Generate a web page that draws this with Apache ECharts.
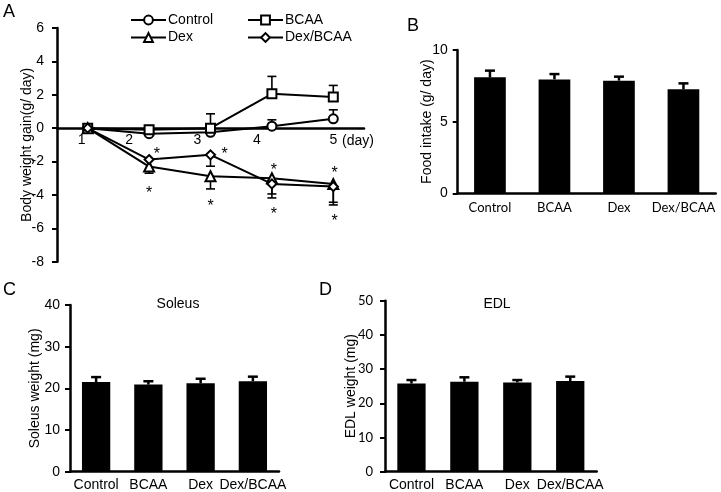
<!DOCTYPE html>
<html>
<head>
<meta charset="utf-8">
<script src="https://cdn.jsdelivr.net/npm/echarts@6/dist/echarts.min.js"></script>
<style>
  html, body { margin: 0; padding: 0; background: #fff; }
  #chart { width: 721px; height: 492px; }
</style>
</head>
<body>
<div id="chart"></div>
<script>
// panel A: body weight gain per day
const days = [1, 2, 3, 4, 5];
const control = [0, -0.33, -0.25, 0.12, 0.56];
const controlErr = [0, 0, 0, 0.38, 0.54];
const bcaa = [0, -0.1, 0.0, 2.06, 1.86];
const bcaaErr = [0, 0.1, 0.86, 1.04, 0.7];
const dex = [0, -2.3, -2.88, -3.0, -3.35];
const dexErr = [0, -0.4, -0.76, -0.94, -1.09];
const dexBcaa = [0, -1.88, -1.6, -3.34, -3.5];
const dexBcaaErr = [0, 0, -0.68, -0.84, -1.1];
// significance marks (day, value)
const starX = [2.125, 2.0, 3.23, 3.0, 4.03, 4.03, 5.02, 5.02];
const starY = [-1.3, -3.64, -1.3, -4.4, -2.25, -4.88, -2.44, -5.3];

// panels B, C, D
const groups = ["Control", "BCAA", "Dex", "Dex/BCAA"];
const food = [8.09, 7.95, 7.86, 7.26];
const foodErr = [0.47, 0.37, 0.28, 0.41];
const soleus = [21.5, 20.9, 21.2, 21.7];
const soleusErr = [1.2, 0.8, 1.1, 1.1];
const edl = [25.8, 26.3, 26.1, 26.5];
const edlErr = [1.0, 1.3, 0.7, 1.3];

const ARIAL = "Liberation Sans";
const myChart = echarts.init(document.getElementById("chart"));

// vertical error bar with a cap at the end
function errItem(lw, hw) {
  return function (params, api) {
    const x = api.value(0), v = api.value(1), e = api.value(2);
    if (!e) return null;
    const p0 = api.coord([x, v]);
    const p1 = api.coord([x, v + e]);
    const st = { stroke: "#000", lineWidth: lw };
    return {
      type: "group",
      children: [
        { type: "line", shape: { x1: p0[0], y1: p0[1], x2: p1[0], y2: p1[1] }, style: st },
        { type: "line", shape: { x1: p1[0] - hw, y1: p1[1], x2: p1[0] + hw, y2: p1[1] }, style: st },
      ],
    };
  };
}

const yAxisBase = {
  type: "value",
  splitLine: { show: false },
  axisLine: { show: true, lineStyle: { color: "#000", width: 2.5 } },
  axisTick: { show: true, length: 5, lineStyle: { color: "#000", width: 2 } },
  nameLocation: "middle",
  nameMoveOverlap: false,
  nameTextStyle: { color: "#000", fontFamily: ARIAL, fontSize: 14 },
};
const catAxisBase = {
  type: "category",
  data: groups,
  axisLine: { lineStyle: { color: "#000", width: 2.5 } },
  axisTick: { show: false },
};

const lineSeries = (name, vals, symbol, size) => ({
  name: name,
  type: "line",
  xAxisIndex: 0,
  yAxisIndex: 0,
  data: days.map((d, i) => [d, vals[i]]),
  symbol: symbol,
  symbolSize: size,
  lineStyle: { color: "#000", width: 2 },
  itemStyle: { color: "#fff", borderColor: "#000", borderWidth: 2 },
  z: 3,
});
const lineErr = (vals, errs) => ({
  type: "custom",
  xAxisIndex: 0,
  yAxisIndex: 0,
  renderItem: errItem(1.6, 4.5),
  data: days.map((d, i) => [d, vals[i], errs[i]]),
  z: 1,
});
const barSeries = (idx, vals, width) => ({
  type: "bar",
  xAxisIndex: idx,
  yAxisIndex: idx,
  data: vals,
  barWidth: width,
  itemStyle: { color: "#000" },
});
const barErr = (idx, vals, errs) => ({
  type: "custom",
  xAxisIndex: idx,
  yAxisIndex: idx,
  renderItem: errItem(2.5, 5),
  data: groups.map((g, i) => [i, vals[i], errs[i]]),
  z: 3,
});

const legendAt = (name, left, top) => ({
  data: [name],
  left: left,
  top: top,
  padding: 0,
  itemWidth: 35,
  itemHeight: 11,
  itemGap: 0,
  selectedMode: false,
  textStyle: { color: "#000", fontFamily: ARIAL, fontSize: 14, padding: [0, 0, 0, -3] },
});

const dayShift = { 1: -6, 2: -20, 3: -13, 4: -15, 5: 0 };
const dayRich = {};
days.forEach((d) => {
  dayRich["d" + d] = {
    fontFamily: ARIAL, fontSize: 14, color: "#000",
    padding: [0, -2 * dayShift[d], 0, 0],
  };
});

const titleStyle = { fontFamily: ARIAL, fontSize: 18, fontWeight: "normal", color: "#000" };
const subStyle = { fontFamily: ARIAL, fontSize: 14, fontWeight: "normal", color: "#000" };

const options = {
  animation: false,
  backgroundColor: "#fff",
  title: [
    { text: "A", left: 3, top: 3, padding: 0, textStyle: titleStyle },
    { text: "B", left: 407, top: 17, padding: 0, textStyle: titleStyle },
    { text: "C", left: 3, top: 281, padding: 0, textStyle: titleStyle },
    { text: "D", left: 319, top: 281, padding: 0, textStyle: titleStyle },
    { text: "Soleus", left: 178, top: 297, padding: 0, textAlign: "center", textStyle: subStyle },
    { text: "EDL", left: 497, top: 297, padding: 0, textAlign: "center", textStyle: subStyle },
  ],
  legend: [
    legendAt("Control", 130, 13),
    legendAt("BCAA", 247, 13),
    legendAt("Dex", 130, 30.5),
    legendAt("Dex/BCAA", 247, 30.5),
  ],
  grid: [
    { left: 57, top: 28, width: 307, height: 233.7 },
    { left: 457.7, top: 50, width: 258, height: 143.3 },
    { left: 70, top: 305, width: 209, height: 166.7 },
    { left: 385, top: 300.7, width: 211.7, height: 171 },
    // upper half of panel A, only used to hang the day labels under the zero line
    { left: 57, top: 28, width: 307, height: 99.7 },
  ],
  xAxis: [
    {
      gridIndex: 0,
      type: "value",
      min: 0.5,
      max: 5.5,
      interval: 0.5,
      splitLine: { show: false },
      axisLine: { onZero: true, lineStyle: { color: "#000", width: 2.5 } },
      axisTick: { show: false },
      axisLabel: { show: false },
      name: "(day)",
      nameLocation: "end",
      nameGap: -22,
      nameTextStyle: { color: "#000", fontFamily: ARIAL, fontSize: 14, verticalAlign: "top", padding: [6, 0, 0, 0] },
    },
    Object.assign({}, catAxisBase, {
      gridIndex: 1,
      axisLabel: { color: "#000", fontFamily: "Lato", fontSize: 13, margin: 8, interval: 0 },
    }),
    Object.assign({}, catAxisBase, {
      gridIndex: 2,
      axisLabel: { color: "#000", fontFamily: ARIAL, fontSize: 14, margin: 6, interval: 0 },
    }),
    Object.assign({}, catAxisBase, {
      gridIndex: 3,
      axisLabel: { color: "#000", fontFamily: ARIAL, fontSize: 14, margin: 6, interval: 0 },
    }),
    {
      gridIndex: 4,
      type: "value",
      min: 0.5,
      max: 5.5,
      interval: 0.5,
      splitLine: { show: false },
      axisLine: { show: false },
      axisTick: { show: false },
      axisLabel: {
        margin: 5,
        formatter: (v) => (Number.isInteger(v) && v >= 1 && v <= 5 ? "{d" + v + "|" + v + "}" : ""),
        rich: dayRich,
      },
    },
  ],
  yAxis: [
    Object.assign({}, yAxisBase, {
      gridIndex: 0, min: -8, max: 6, interval: 2,
      name: "Body weight gain(g/ day)", nameGap: 23,
      axisLabel: { color: "#000", fontFamily: ARIAL, fontSize: 14, margin: 13 },
    }),
    Object.assign({}, yAxisBase, {
      gridIndex: 1, min: 0, max: 10, interval: 5,
      name: "Food intake (g/ day)", nameGap: 24,
      axisLabel: { color: "#000", fontFamily: ARIAL, fontSize: 14, margin: 10 },
    }),
    Object.assign({}, yAxisBase, {
      gridIndex: 2, min: 0, max: 40, interval: 10,
      name: "Soleus weight (mg)", nameGap: 28,
      axisLabel: { color: "#000", fontFamily: ARIAL, fontSize: 14, margin: 10 },
    }),
    Object.assign({}, yAxisBase, {
      gridIndex: 3, min: 0, max: 50, interval: 10,
      name: "EDL weight (mg)", nameGap: 27,
      axisLabel: { color: "#000", fontFamily: "Lato", fontSize: 13, margin: 12 },
    }),
    { gridIndex: 4, type: "value", min: 0, max: 6, show: false },
  ],
  series: [
    lineErr(control, controlErr),
    lineErr(bcaa, bcaaErr),
    lineErr(dex, dexErr),
    lineErr(dexBcaa, dexBcaaErr),
    lineSeries("Control", control, "circle", 9),
    lineSeries("BCAA", bcaa, "rect", 9),
    lineSeries("Dex", dex, "triangle", 10),
    lineSeries("Dex/BCAA", dexBcaa, "diamond", 9),
    {
      type: "custom",
      xAxisIndex: 0,
      yAxisIndex: 0,
      data: starX.map((x, i) => [x, starY[i]]),
      renderItem: (params, api) => {
        const p = api.coord([api.value(0), api.value(1)]);
        return {
          type: "text",
          x: p[0],
          y: p[1] + 4.5,
          style: { text: "*", fill: "#000", font: "16px " + ARIAL, align: "center", verticalAlign: "middle" },
        };
      },
      z: 4,
    },
    barSeries(1, food, 31.7),
    barErr(1, food, foodErr),
    barSeries(2, soleus, 28.3),
    barErr(2, soleus, soleusErr),
    barSeries(3, edl, 28.3),
    barErr(3, edl, edlErr),
  ],
};

myChart.setOption(options);
</script>
</body>
</html>
